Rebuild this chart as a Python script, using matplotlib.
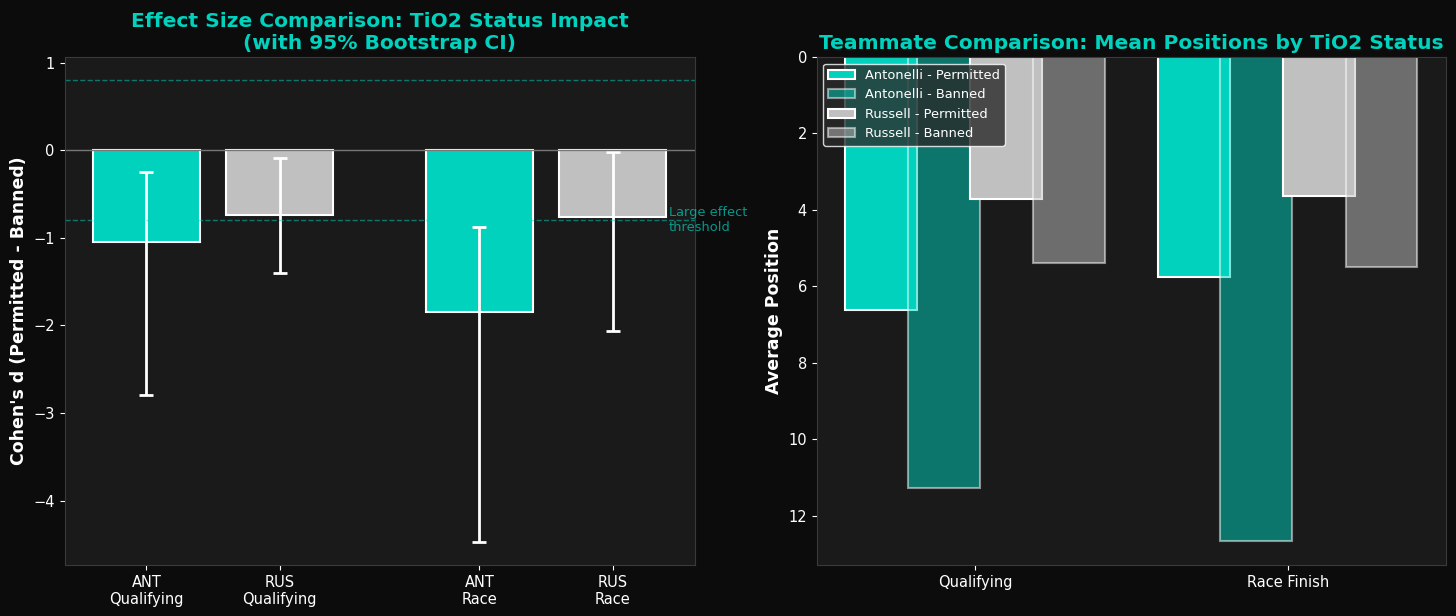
import matplotlib
matplotlib.use("Agg")
import matplotlib.pyplot as plt
import numpy as np

# effect sizes (Cohen's d, permitted - banned) with bootstrap CI
effect_labels = ["ANT\nQualifying", "RUS\nQualifying", "ANT\nRace", "RUS\nRace"]
effect_pos = [0, 1, 2.5, 3.5]
cohens_d = [-1.05, -0.74, -1.85, -0.76]
ci_low = [-2.79, -1.40, -4.47, -2.06]
ci_high = [-0.25, -0.09, -0.88, -0.025]

# mean positions by TiO2 status
sessions = ["Qualifying", "Race Finish"]
ant_permitted = [6.62, 5.75]
ant_banned = [11.27, 12.66]
rus_permitted = [3.72, 3.63]
rus_banned = [5.39, 5.50]

TEAL = "#00D2BE"
SILVER = "#C0C0C0"
BG = "#0c0c0c"
AX_BG = "#1a1a1a"

plt.rcParams["font.family"] = "DejaVu Sans"

fig = plt.figure(figsize=(14.56, 6.16), dpi=100, facecolor=BG)
ax1 = fig.add_axes([0.0443, 0.0828, 0.4327, 0.8247])
ax2 = fig.add_axes([0.5609, 0.0828, 0.4323, 0.8247])

for ax in (ax1, ax2):
    ax.set_facecolor(AX_BG)
    for s in ax.spines.values():
        s.set_color("#3a3a3a")
    ax.tick_params(colors="white", labelsize=10.5)

# --- left: effect sizes ---
colors = [TEAL, SILVER, TEAL, SILVER]
d = np.array(cohens_d)
yerr = [d - np.array(ci_low), np.array(ci_high) - d]
ax1.bar(effect_pos, cohens_d, width=0.8, color=colors, edgecolor="white", linewidth=1.5)
ax1.errorbar(effect_pos, cohens_d, yerr=yerr, fmt="none", ecolor="white",
             elinewidth=2, capsize=5, capthick=2)
ax1.axhline(0, color="#777777", linewidth=1)
ax1.axhline(0.8, color=TEAL, linestyle="--", linewidth=1, alpha=0.5)
ax1.axhline(-0.8, color=TEAL, linestyle="--", linewidth=1, alpha=0.5)
ax1.text(3.92, -0.8, "Large effect\nthreshold", color=TEAL, alpha=0.7,
         fontsize=9.4, ha="left", va="center")
ax1.set_xticks(effect_pos)
ax1.set_xticklabels(effect_labels)
ax1.set_ylabel("Cohen's d (Permitted - Banned)", color="white", fontsize=12.5,
               fontweight="bold")
ax1.set_title("Effect Size Comparison: TiO2 Status Impact\n(with 95% Bootstrap CI)",
              color=TEAL, fontsize=14.6, fontweight="bold")

# --- right: mean positions ---
x = np.arange(len(sessions))
w = 0.23
ax2.bar(x - 0.3, ant_permitted, w, color=TEAL, edgecolor="white",
        linewidth=1.5, label="Antonelli - Permitted")
ax2.bar(x - 0.1, ant_banned, w, color=TEAL, alpha=0.5, edgecolor="white",
        linewidth=1.5, label="Antonelli - Banned")
ax2.bar(x + 0.1, rus_permitted, w, color=SILVER, edgecolor="white",
        linewidth=1.5, label="Russell - Permitted")
ax2.bar(x + 0.3, rus_banned, w, color=SILVER, alpha=0.5, edgecolor="white",
        linewidth=1.5, label="Russell - Banned")
ax2.invert_yaxis()
ax2.set_xticks(x)
ax2.set_xticklabels(sessions)
ax2.set_ylabel("Average Position", color="white", fontsize=12.5, fontweight="bold")
ax2.set_title("Teammate Comparison: Mean Positions by TiO2 Status",
              color=TEAL, fontsize=14.6, fontweight="bold")
leg = ax2.legend(loc="upper left", fontsize=9.4, facecolor="#2a2a2a",
                 edgecolor="white", framealpha=0.8)
for t in leg.get_texts():
    t.set_color("white")

fig.savefig("out.png", dpi=100, facecolor=BG)
